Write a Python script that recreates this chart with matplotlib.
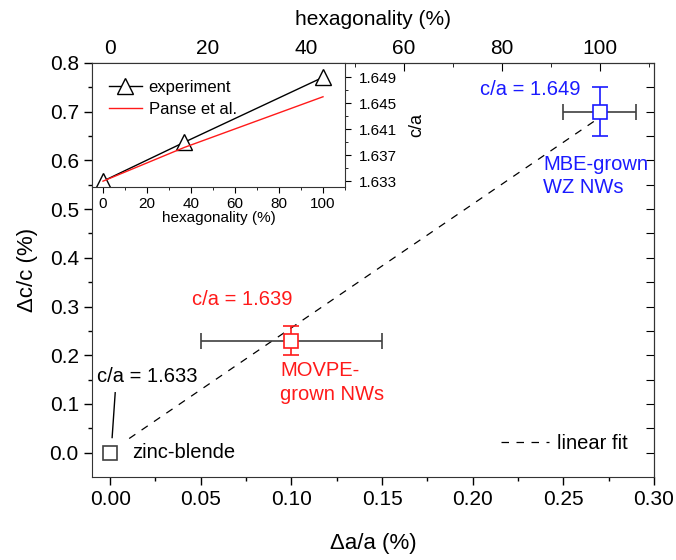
"""
Lattice parameter change vs hexagonality.
"""

import numpy as np
import matplotlib
matplotlib.use("Agg")
import matplotlib.pyplot as plt

plt.rcParams['font.family'] = ['Liberation Sans', 'DejaVu Sans']

# main panel data
da_a = [0.0, 0.10, 0.27]
dc_c = [0.0, 0.23, 0.70]
da_err = [0.0, 0.05, 0.02]
dc_err = [0.0, 0.03, 0.05]
point_colors = ['#404040', '#ff1a1a', '#1a1aff']

fit_x = [0.0105, 0.268]
fit_y = [0.029, 0.683]

# inset data
hex_exp = [0, 37, 100]
ca_exp = [1.633, 1.639, 1.649]
hex_panse = [0, 37, 100]
ca_panse = [1.633, 1.6382, 1.646]

fig = plt.figure(figsize=(6.76, 5.6), dpi=100)
ax = fig.add_axes([92/676, 1-477/560, (654-92)/676, (477-63)/560])

ax.plot(fit_x, fit_y, ls=(0, (6, 6)), color='k', lw=0.9, label='linear fit')

for x, y, xe, ye, c in zip(da_a, dc_c, da_err, dc_err, point_colors):
    if xe > 0:
        ax.errorbar(x, y, xerr=xe, fmt='none', ecolor='#404040', elinewidth=1.2,
                    capsize=6, capthick=1.2)
        ax.errorbar(x, y, yerr=ye, fmt='none', ecolor=c, elinewidth=1.2,
                    capsize=6, capthick=1.2)
    ax.plot(x, y, 's', ms=10, mfc='white', mec=c, mew=1.2, zorder=5)

ax.set_xlim(-0.01, 0.30)
ax.set_ylim(-0.05, 0.80)
ax.set_xticks(np.arange(0, 0.31, 0.05))
ax.set_xticks(np.arange(0.025, 0.30, 0.05), minor=True)
ax.set_yticks(np.arange(0, 0.81, 0.1))
ax.set_yticks(np.arange(0.05, 0.80, 0.1), minor=True)
ax.xaxis.set_major_formatter(plt.FormatStrFormatter('%.2f'))
ax.yaxis.set_major_formatter(plt.FormatStrFormatter('%.1f'))
ax.tick_params(which='major', direction='out', length=6, width=1, labelsize=15)
ax.tick_params(which='minor', direction='out', length=3, width=1)
ax.set_xlabel('Δa/a (%)', fontsize=16, labelpad=17)
ax.set_ylabel('Δc/c (%)', fontsize=16, labelpad=8)
for s in ax.spines.values():
    s.set_color('#333333')

# mirrored right ticks
rax = ax.secondary_yaxis('right')
rax.set_yticks(np.arange(0, 0.81, 0.05))
rax.tick_params(direction='in', length=6, labelright=False)
rax.spines['right'].set_color('#333333')

# top hexagonality axis
tax = ax.secondary_xaxis('top', functions=(lambda x: x/0.27*100, lambda h: h*0.27/100))
tax.set_xticks(np.arange(0, 101, 20))
tax.set_xticks(np.arange(10, 111, 20), minor=True)
tax.tick_params(which='major', direction='in', length=6, labelsize=15)
tax.tick_params(which='minor', direction='in', length=3)
tax.set_xlabel('hexagonality (%)', fontsize=15, labelpad=10)
tax.spines['top'].set_color('#333333')

# annotations
fs = 14.5
ax.text(0.0204, 0.156, 'c/a = 1.633', fontsize=fs, color='k', ha='center', va='center')
ax.plot([0.0028, 0.0011], [0.123, 0.031], color='k', lw=1)
ax.text(0.0121, 0.0, 'zinc-blende', fontsize=fs, color='k', va='center')
ax.text(0.073, 0.314, 'c/a = 1.639', fontsize=fs, color='#ff1a1a', ha='center', va='center')
ax.text(0.0938, 0.1436, 'MOVPE-\ngrown NWs', fontsize=fs, color='#ff1a1a', va='center',
        linespacing=1.3)
ax.text(0.232, 0.745, 'c/a = 1.649', fontsize=fs, color='#1a1aff', ha='center', va='center')
ax.text(0.2388, 0.568, 'MBE-grown\nWZ NWs', fontsize=fs, color='#1a1aff', va='center',
        linespacing=1.3)

ax.legend(loc='center right', frameon=False, fontsize=14.5, handlelength=2.4,
          handletextpad=0.4, borderaxespad=0, bbox_to_anchor=(0.968, 0.08))

# inset
ain = fig.add_axes([92/676, 1-187/560, (345-92)/676, (187-63)/560])
ain.plot(hex_exp, ca_exp, '-^', color='k', lw=1, ms=11, mfc='white', mec='k', mew=1,
         label='experiment')
ain.plot(hex_panse, ca_panse, '-', color='#ff1a1a', lw=1, label='Panse et al.')
ain.set_xlim(-5, 110)
ain.set_ylim(1.6321, 1.6512)
ain.set_xticks(np.arange(0, 101, 20))
ain.set_xticks(np.arange(10, 111, 20), minor=True)
ain.set_yticks([1.633, 1.637, 1.641, 1.645, 1.649])
ain.set_yticks(np.arange(1.635, 1.650, 0.004), minor=True)
ain.yaxis.set_major_formatter(plt.FormatStrFormatter('%.3f'))
ain.yaxis.tick_right()
ain.yaxis.set_label_position('right')
ain.tick_params(which='major', direction='out', length=4, labelsize=11)
ain.tick_params(axis='y', which='major', pad=6)
ain.tick_params(which='minor', direction='out', length=2.5)
ain.set_xlabel('hexagonality (%)', fontsize=11, labelpad=0)
ain.set_ylabel('c/a', fontsize=13, labelpad=8)
for s in ain.spines.values():
    s.set_color('#333333')
ain.legend(loc='upper left', frameon=False, fontsize=12, handlelength=2.0,
           handletextpad=0.4, borderaxespad=0.6, labelspacing=0.45)

fig.savefig('out.png', dpi=100)
